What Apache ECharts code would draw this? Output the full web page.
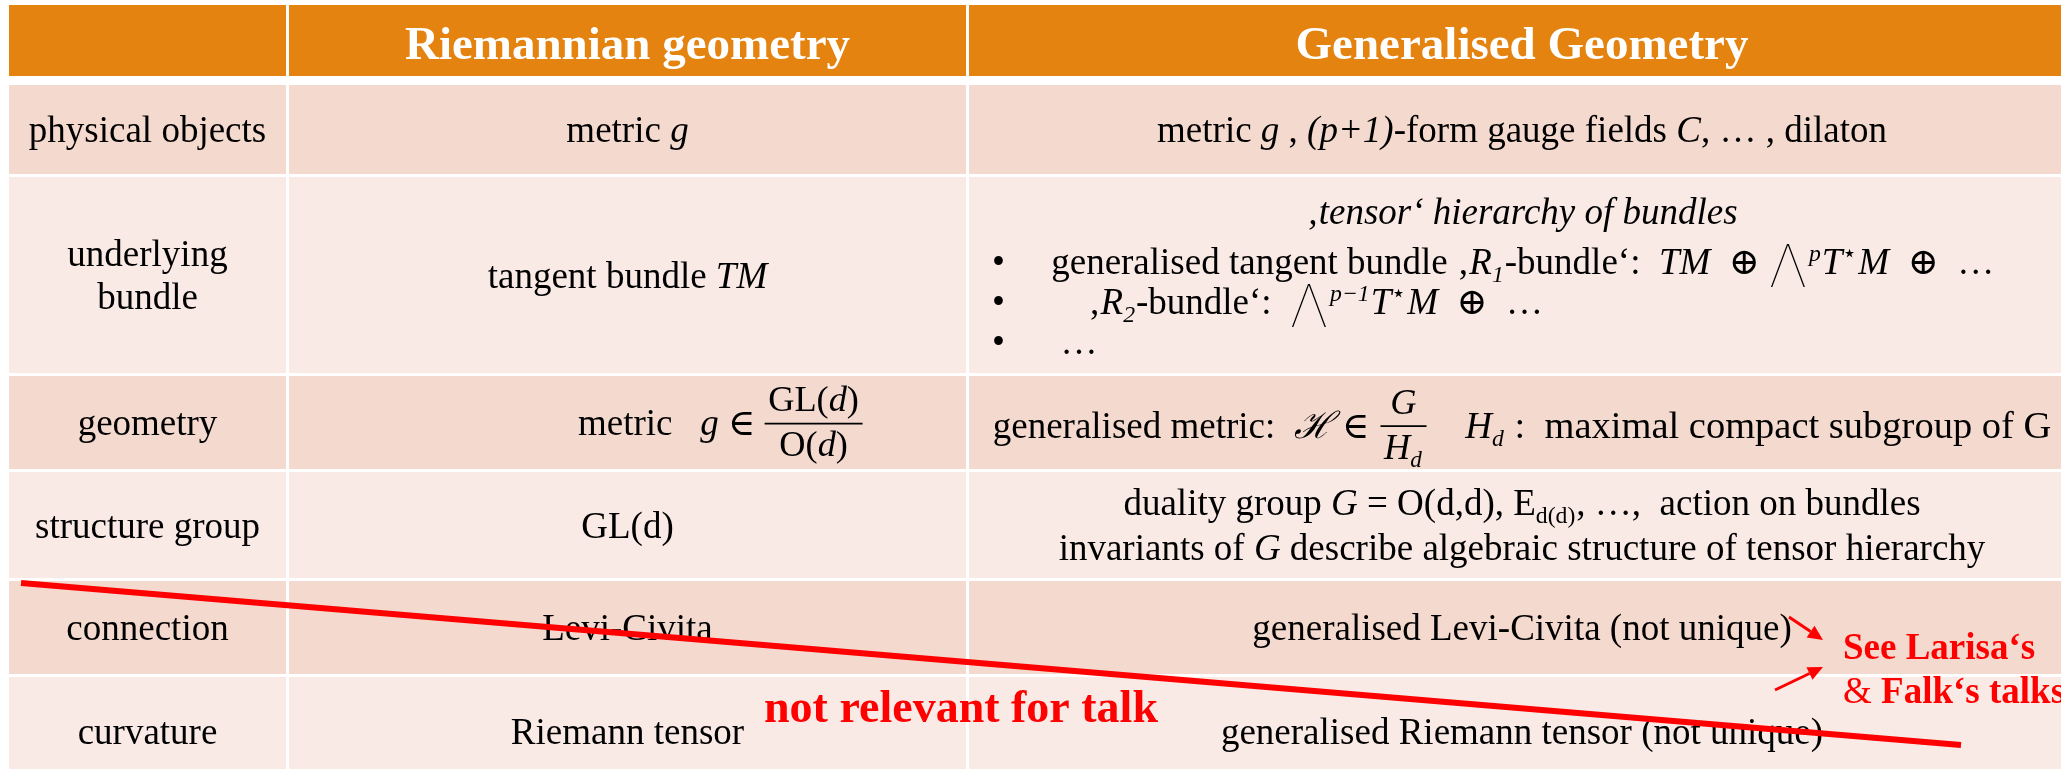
<!DOCTYPE html>
<html><head><meta charset="utf-8">
<script src="https://cdn.jsdelivr.net/npm/echarts@6/dist/echarts.min.js"></script>
<style>html,body{margin:0;padding:0;background:#fff}#c{width:2061px;height:769px}</style>
</head><body><div id="c"></div>
<script>
// ---------------- DATA ----------------
const headers = ['', 'Riemannian geometry', 'Generalised Geometry'];
const rowLabels = ['physical objects', 'underlying\nbundle', 'geometry', 'structure group', 'connection', 'curvature'];

// each cell = list of lines; each line = list of tokens [styleKey, text] / ['sub'|'sup', styleKey, text] / ['frac', num, den] / ['big', text]
const riemannianCells = [
  [[['r', 'metric '], ['i', 'g']]],
  [[['r', 'tangent bundle '], ['i', 'TM']]],
  [[['r', 'metric   '], ['mi', 'g'], ['mr', ' ∈\u2009'], ['frac', [['mr', 'GL('], ['mi', 'd'], ['mr', ')']], [['mr', 'O('], ['mi', 'd'], ['mr', ')']]]]],
  [[['r', 'GL(d)']]],
  [[['r', 'Levi-Civita']]],
  [[['r', 'Riemann tensor']]]
];

const generalisedCells = [
  [[['r', 'metric '], ['i', 'g'], ['r', ' , '], ['i', '(p+1)'], ['r', '-form gauge fields '], ['i', 'C'], ['r', ', … , dilaton']]],
  [
    [['i', '‚tensor‘ hierarchy of bundles']],
    [['r', '•     generalised tangent bundle ‚'], ['i', 'R'], ['sub', 'i', '1'], ['r', '-bundle‘:  '], ['mi', 'TM'], ['mr', '  ⊕ '], ['big', 'Λ'], ['sup', 'mi', 'p'], ['mi', 'T'], ['sup', 'mr', '⋆'], ['mi', 'M'], ['mr', '  ⊕  …']],
    [['r', '•         ‚'], ['i', 'R'], ['sub', 'i', '2'], ['r', '-bundle‘:  '], ['big', 'Λ'], ['sup', 'mi', 'p−1'], ['mi', 'T'], ['sup', 'mr', '⋆'], ['mi', 'M'], ['mr', '  ⊕  …']],
    [['r', '•      …']]
  ],
  [[['r', 'generalised metric:  '], ['mi', 'ℋ'], ['mr', ' ∈ '], ['frac', [['mi', 'G']], [['mi', 'H'], ['sub', 'mi', 'd']]], ['mr', '    '], ['mi', 'H'], ['sub', 'mi', 'd'], ['cm', ' :  maximal compact subgroup of G']]],
  [
    [['r', 'duality group '], ['i', 'G'], ['r', ' = O(d,d), E'], ['sub', 'r', 'd(d)'], ['r', ', …,  action on bundles']],
    [['r', 'invariants of '], ['i', 'G'], ['r', ' describe algebraic structure of tensor hierarchy']]
  ],
  [[['r', 'generalised Levi-Civita (not unique)']]],
  [[['r', 'generalised Riemann tensor (not unique)']]]
];

const noteTexts = [
  [['nbig', 'not relevant for talk']],
  [['nb', 'See Larisa‘s']],
  [['nr', '&'], ['nb', ' Falk‘s talks']]
];

// ---------------- LAYOUT / STYLE ----------------
const SERIF = '"Liberation Serif", "Times New Roman", "DejaVu Serif", serif';
const THIN = '"Inter", "Lato", "Roboto", "Open Sans", "DejaVu Sans", sans-serif';
const BODY = 37;
const STY = {
  h:   {style: 'normal', weight: 'bold', family: SERIF, size: 47, fill: '#ffffff'},
  r:   {style: 'normal', weight: 'normal', family: SERIF},
  i:   {style: 'italic', weight: 'normal', family: SERIF},
  mi:  {style: 'italic', weight: 'normal', family: SERIF},
  mr:  {style: 'normal', weight: 'normal', family: SERIF},
  cm:  {style: 'normal', weight: 'normal', family: SERIF, scale: 1.04},
  big: {style: 'normal', weight: '100', family: THIN, scale: 1.6},
  nbig:{style: 'normal', weight: 'bold', family: SERIF, size: 46, fill: '#ff0000'},
  nb:  {style: 'normal', weight: 'bold', family: SERIF, size: 37, fill: '#ff0000'},
  nr:  {style: 'normal', weight: 'normal', family: SERIF, size: 37, fill: '#ff0000'}
};
const L = {
  colSpans: [[9, 286], [289, 966], [969, 2075]],
  rowSpans: [[5, 76], [85, 174], [177, 373], [376, 469], [472, 578], [581, 674], [677, 785]],
  headerFill: '#E4830F',
  bandFills: ['#F4D9CE', '#F9EAE6'],
  headerDy: 18,
  cellLines: {
    '2,2': {lines: [{align: 'center', dy: -51}, {align: 'left', dx: 23, dy: -1}, {align: 'left', dx: 23, dy: 39}, {align: 'left', dx: 23, dy: 79}]},
    '3,1': {align: 'left', dx: 289},
    '3,2': {dy: 15},
    '4,2': {lh: 45}
  }
};
const ANNOT = {
  strike: [[21, 583], [1961, 745]],
  notes: [{at: [961, 722], align: 'center'}, {at: [1843, 659], align: 'left'}, {at: [1843, 703], align: 'left'}],
  arrows: [[[1789, 617], [1823, 640]], [[1775, 690], [1823, 667]]]
};

// ---------------- TEXT ENGINE ----------------
const cv = document.createElement('canvas');
const ctx = cv.getContext('2d');
function fontStr(st, fs) {
  const size = st.size || fs * (st.scale || 1);
  return st.style + ' ' + st.weight + ' ' + Math.round(size * 10) / 10 + 'px ' + st.family;
}
function tokW(font, text) { ctx.font = font; return ctx.measureText(text).width; }
const offCache = {};
function midOff(font) {
  if (offCache[font] != null) return offCache[font];
  ctx.font = font; ctx.textBaseline = 'alphabetic';
  const a = ctx.measureText('Hg').fontBoundingBoxAscent;
  ctx.textBaseline = 'middle';
  const b = ctx.measureText('Hg').fontBoundingBoxAscent;
  ctx.textBaseline = 'alphabetic';
  let v = a - b;
  if (!isFinite(v)) v = 0.34 * parseFloat(font.match(/([\d.]+)px/)[1]);
  offCache[font] = v;
  return v;
}
function layoutTokens(tokens, fs) {
  const items = []; let x = 0;
  tokens.forEach(t => {
    const kind = t[0];
    if (kind === 'sub' || kind === 'sup') {
      const st = STY[t[1]]; const size = fs * 0.64;
      const font = fontStr(Object.assign({}, st, {size: size}), size);
      const w = tokW(font, t[2]);
      items.push({type: 'text', text: t[2], font, fill: st.fill, x, base: kind === 'sub' ? fs * 0.22 : -fs * 0.36});
      x += w + 1;
    } else if (kind === 'frac') {
      const fsF = fs * 0.98;
      const num = layoutTokens(t[1], fsF), den = layoutTokens(t[2], fsF);
      const w = Math.max(num.width, den.width) + fsF * 0.3;
      const axis = -fs * 0.31;
      num.items.forEach(it => items.push(Object.assign({}, it, {x: x + (w - num.width) / 2 + it.x, base: it.base + axis - fsF * 0.34})));
      den.items.forEach(it => items.push(Object.assign({}, it, {x: x + (w - den.width) / 2 + it.x, base: it.base + axis + fsF * 0.9})));
      items.push({type: 'bar', x: x + fsF * 0.05, w: w - fsF * 0.1, base: axis});
      x += w;
    } else if (kind === 'big') {
      const font = fontStr(STY.big, fs);
      const w = tokW(font, t[1]);
      items.push({type: 'text', text: t[1], font, x, base: fs * 0.34});
      x += w + 2;
    } else {
      const st = STY[kind];
      const font = fontStr(st, fs);
      const w = tokW(font, t[1]);
      items.push({type: 'text', text: t[1], font, fill: st.fill, x, base: 0});
      x += w;
    }
  });
  return {items, width: x};
}
function renderLine(children, lay, startX, baseY, defFill) {
  lay.items.forEach(it => {
    const fill = it.fill || defFill;
    if (it.type === 'bar') {
      children.push({type: 'line', shape: {x1: startX + it.x, y1: baseY + it.base, x2: startX + it.x + it.w, y2: baseY + it.base}, style: {stroke: fill, lineWidth: 1.8}});
    } else {
      children.push({type: 'text', x: startX + it.x, y: baseY + it.base - midOff(it.font),
        style: {text: it.text, font: it.font, fill: fill, textAlign: 'left', textVerticalAlign: 'middle'}});
    }
  });
}

function cellContent(c, r) {
  if (r === 0) return [[['h', headers[c]]]];
  if (c === 0) return rowLabels[r - 1].split('\n').map(s => [['r', s]]);
  if (c === 1) return riemannianCells[r - 1];
  return generalisedCells[r - 1];
}

const cells = [];
for (let r = 0; r < L.rowSpans.length; r++) for (let c = 0; c < 3; c++) cells.push([c, r]);

function renderCell(params, api) {
  const c = api.value(0), r = api.value(1);
  const xs = L.colSpans[c], ys = L.rowSpans[r];
  const p0 = api.coord([xs[0], ys[0]]), p1 = api.coord([xs[1], ys[1]]);
  const rx = p0[0], ry = p0[1], rw = p1[0] - p0[0], rh = p1[1] - p0[1];
  const fillBg = r === 0 ? L.headerFill : L.bandFills[(r - 1) % 2];
  const children = [{type: 'rect', shape: {x: rx, y: ry, width: rw, height: rh}, style: {fill: fillBg}}];
  const lines = cellContent(c, r);
  const spec = r === 0 ? {dy: L.headerDy} : (L.cellLines[r + ',' + c] || {});
  const fs = r === 0 ? STY.h.size : BODY;
  const n = lines.length;
  const cx = rx + rw / 2, cy = ry + rh / 2;
  lines.forEach((tokens, i) => {
    if (!tokens.length || (tokens.length === 1 && tokens[0][1] === '')) return;
    const ls = (spec.lines && spec.lines[i]) || {};
    const lay = layoutTokens(tokens, fs);
    const align = ls.align || spec.align || 'center';
    const dy = ls.dy != null ? ls.dy : (i - (n - 1) / 2) * (spec.lh || 43) + (spec.dy != null ? spec.dy : 0.34 * fs);
    const baseY = cy + dy;
    const startX = align === 'left' ? rx + (ls.dx != null ? ls.dx : (spec.dx || 0)) : cx - lay.width / 2;
    renderLine(children, lay, startX, baseY, '#000000');
  });
  return {type: 'group', children};
}

function renderNote(params, api) {
  const i = params.dataIndex;
  const note = ANNOT.notes[i];
  const p = api.coord(note.at);
  const lay = layoutTokens(noteTexts[i], BODY);
  const startX = note.align === 'center' ? p[0] - lay.width / 2 : p[0];
  const children = [];
  renderLine(children, lay, startX, p[1], '#ff0000');
  return {type: 'group', children};
}

function renderArrow(params, api) {
  const a = ANNOT.arrows[params.dataIndex];
  const s = api.coord(a[0]), e = api.coord(a[1]);
  const ang = Math.atan2(e[1] - s[1], e[0] - s[0]);
  const hl = 15, hw = 7;
  const bx = e[0] - hl * Math.cos(ang), by = e[1] - hl * Math.sin(ang);
  const nx = -Math.sin(ang), ny = Math.cos(ang);
  return {type: 'group', children: [
    {type: 'line', shape: {x1: s[0], y1: s[1], x2: bx, y2: by}, style: {stroke: '#ff0000', lineWidth: 3}},
    {type: 'polygon', shape: {points: [[e[0], e[1]], [bx + nx * hw, by + ny * hw], [bx - nx * hw, by - ny * hw]]}, style: {fill: '#ff0000'}}
  ]};
}

const chart = echarts.init(document.getElementById('c'), null, {renderer: 'canvas'});
chart.setOption({
  backgroundColor: '#ffffff',
  animation: false,
  grid: {left: 0, right: 0, top: 0, bottom: 0},
  xAxis: {type: 'value', min: 0, max: 2061, show: false},
  yAxis: {type: 'value', min: 0, max: 769, inverse: true, show: false},
  series: [
    {type: 'custom', name: 'table', coordinateSystem: 'cartesian2d', data: cells, renderItem: renderCell, z: 1, silent: true},
    {type: 'line', name: 'strike', data: ANNOT.strike, showSymbol: false, symbol: 'none', lineStyle: {color: '#ff0000', width: 6}, z: 5, silent: true},
    {type: 'custom', name: 'notes', coordinateSystem: 'cartesian2d', data: ANNOT.notes.map(n => n.at), renderItem: renderNote, z: 6, silent: true},
    {type: 'custom', name: 'arrows', coordinateSystem: 'cartesian2d', data: ANNOT.arrows.map(a => a[1]), renderItem: renderArrow, z: 6, silent: true}
  ]
});
</script>
</body></html>
